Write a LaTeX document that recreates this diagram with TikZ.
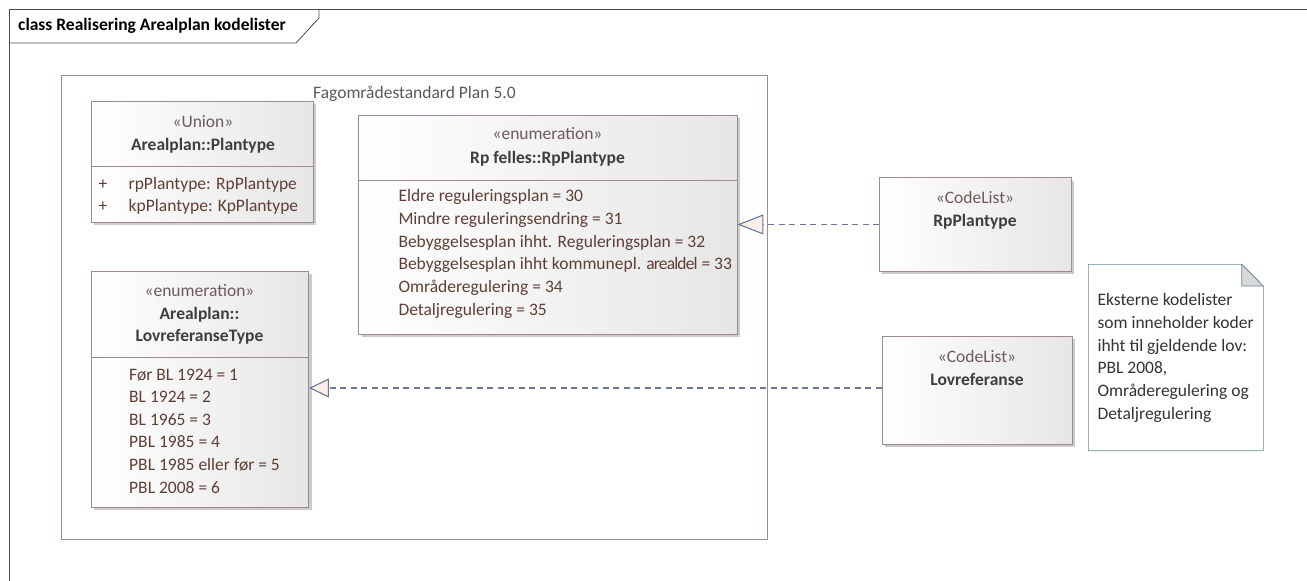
\documentclass[tikz,border=0pt]{standalone}
\usepackage{fontspec}
\setmainfont{Carlito}
\usepackage{tikz}
\usetikzlibrary{arrows.meta,shadows,positioning}

\definecolor{umlline}{HTML}{9E8C8C}
\definecolor{boxgray}{HTML}{E6E6E6}
\definecolor{itemtext}{HTML}{5E3F36}
\definecolor{stereotext}{HTML}{6E5A5A}
\definecolor{nametext}{HTML}{3E3E3E}
\definecolor{linkblue}{HTML}{6C7794}
\definecolor{tipfill}{HTML}{FCEFEA}
\definecolor{noteline}{HTML}{6A8A9A}

\begin{document}
\begin{tikzpicture}[x=1pt,y=-1pt,font=\fontsize{17.5}{21}\selectfont]
  \tikzstyle{every node}=[inner sep=0pt]
  \tikzstyle{classbox}=[draw=umlline,semithick,anchor=north west,left color=white,right color=boxgray,
                        drop shadow={shadow xshift=3pt,shadow yshift=-3pt,fill=black!20,opacity=1}]
  \tikzstyle{stereo}=[anchor=base,text=stereotext]
  \tikzstyle{cname}=[anchor=base,text=nametext,font=\fontsize{17.5}{21}\selectfont\bfseries]
  \tikzstyle{item}=[anchor=base west,text=itemtext]
  \tikzstyle{realize}=[draw=linkblue,line width=1.3pt,dash pattern=on 6pt off 4.5pt]

  \useasboundingbox (0,0) rectangle (1307,581);

  % diagram frame
  \draw[black!70,thick] (9,581) -- (9,9) -- (1307,9);
  \draw[black!70,thick] (319,9) -- (319,18) -- (296,43) -- (9,43);
  \node[anchor=base west,font=\fontsize{17.5}{21}\selectfont\bfseries] (title) at (18,30.5) {class Realisering Arealplan kodelister};

  % package
  \draw[umlline,semithick] (61,75) rectangle (767,539);
  \node[anchor=base west,text=black!65] (pkg) at (313,98) {Fagområdestandard Plan 5.0};

  % classes
  \node[classbox,minimum width=221.5pt,minimum height=121pt] (union) at (91,101) {};
  \draw[umlline,semithick] (91,166.7) -- (312.5,166.7);
  \node[stereo] (unionst) at (203,127) {«Union»};
  \node[cname] (unionnm) at (203,150) {Arealplan::Plantype};
  \node[anchor=base,text=itemtext] (plus1) at (103,189) {+};
  \node[anchor=base,text=itemtext] (plus2) at (103,211) {+};
  \node[item] (attr1) at (128.5,189) {rpPlantype: RpPlantype};
  \node[item] (attr2) at (128.5,211) {kpPlantype: KpPlantype};

  \node[classbox,minimum width=378.5pt,minimum height=218.5pt] (rpenum) at (358.3,115) {};
  \draw[umlline,semithick] (358.3,180) -- (736.8,180);
  \node[stereo] (rpenumst) at (547.5,139) {«enumeration»};
  \node[cname] (rpenumnm) at (547.5,163) {Rp felles::RpPlantype};
  \foreach \t [count=\i] in {Eldre reguleringsplan = 30, Mindre reguleringsendring = 31,
      Bebyggelsesplan ihht. Reguleringsplan = 32,
      {Bebyggelsesplan ihht kommunepl. {\addfontfeature{LetterSpace=-5}arealdel} = 33},
      Områderegulering = 34, Detaljregulering = 35}
    \node[item] (rpv\i) at (398.3,201.7+22.7*\i-22.7) {\t};

  \node[classbox,minimum width=217.5pt,minimum height=235.7pt] (lovenum) at (90.8,271) {};
  \draw[umlline,semithick] (90.8,357.7) -- (308.3,357.7);
  \node[stereo] (lovenumst) at (199.5,296.7) {«enumeration»};
  \node[cname] (lovenumnm1) at (199.5,319.3) {Arealplan::};
  \node[cname] (lovenumnm2) at (199.5,341.7) {LovreferanseType};
  \foreach \t [count=\i] in {Før BL 1924 = 1, BL 1924 = 2, BL 1965 = 3, PBL 1985 = 4,
      PBL 1985 eller før = 5, PBL 2008 = 6}
    \node[item] (lovv\i) at (129,380+22.65*\i-22.65) {\t};

  \node[classbox,minimum width=191.7pt,minimum height=93.7pt] (rpcode) at (879,177.3) {};
  \node[stereo] (rpcodest) at (975,203.3) {«CodeList»};
  \node[cname] (rpcodenm) at (975,226.7) {RpPlantype};

  \node[classbox,minimum width=190.3pt,minimum height=108.3pt] (lovcode) at (881.7,335.7) {};
  \node[stereo] (lovcodest) at (977,362.7) {«CodeList»};
  \node[cname] (lovcodenm) at (977,385) {Lovreferanse};

  % note
  \draw[noteline,semithick,fill=white] (1088.3,264.3) -- (1241.7,264.3) -- (1263.3,286) -- (1263.3,450.7)
       -- (1088.3,450.7) -- cycle;
  \draw[noteline,semithick,fill=black!15] (1241.7,264.3) -- (1241.7,286) -- (1263.3,286) -- cycle;
  \node[anchor=north west,align=left,text=black!80,font=\fontsize{17.5}{22.7}\selectfont] (notetxt) at (1097.3,293.4)
       {Eksterne kodelister\\som inneholder koder\\ihht til gjeldende lov:\\PBL 2008,\\Områderegulering og\\Detaljregulering};

  % realisations
  \draw[realize,-{Triangle[length=26pt,width=20pt,fill=tipfill,line width=1.1pt]}] (rpcode.west) -- (rpenum.east |- rpcode.west);
  \draw[realize,-{Triangle[length=20pt,width=19pt,fill=tipfill,line width=1.1pt]}] (lovcode.west |- 0,388) -- (lovenum.east |- 0,388);
\end{tikzpicture}
\end{document}
